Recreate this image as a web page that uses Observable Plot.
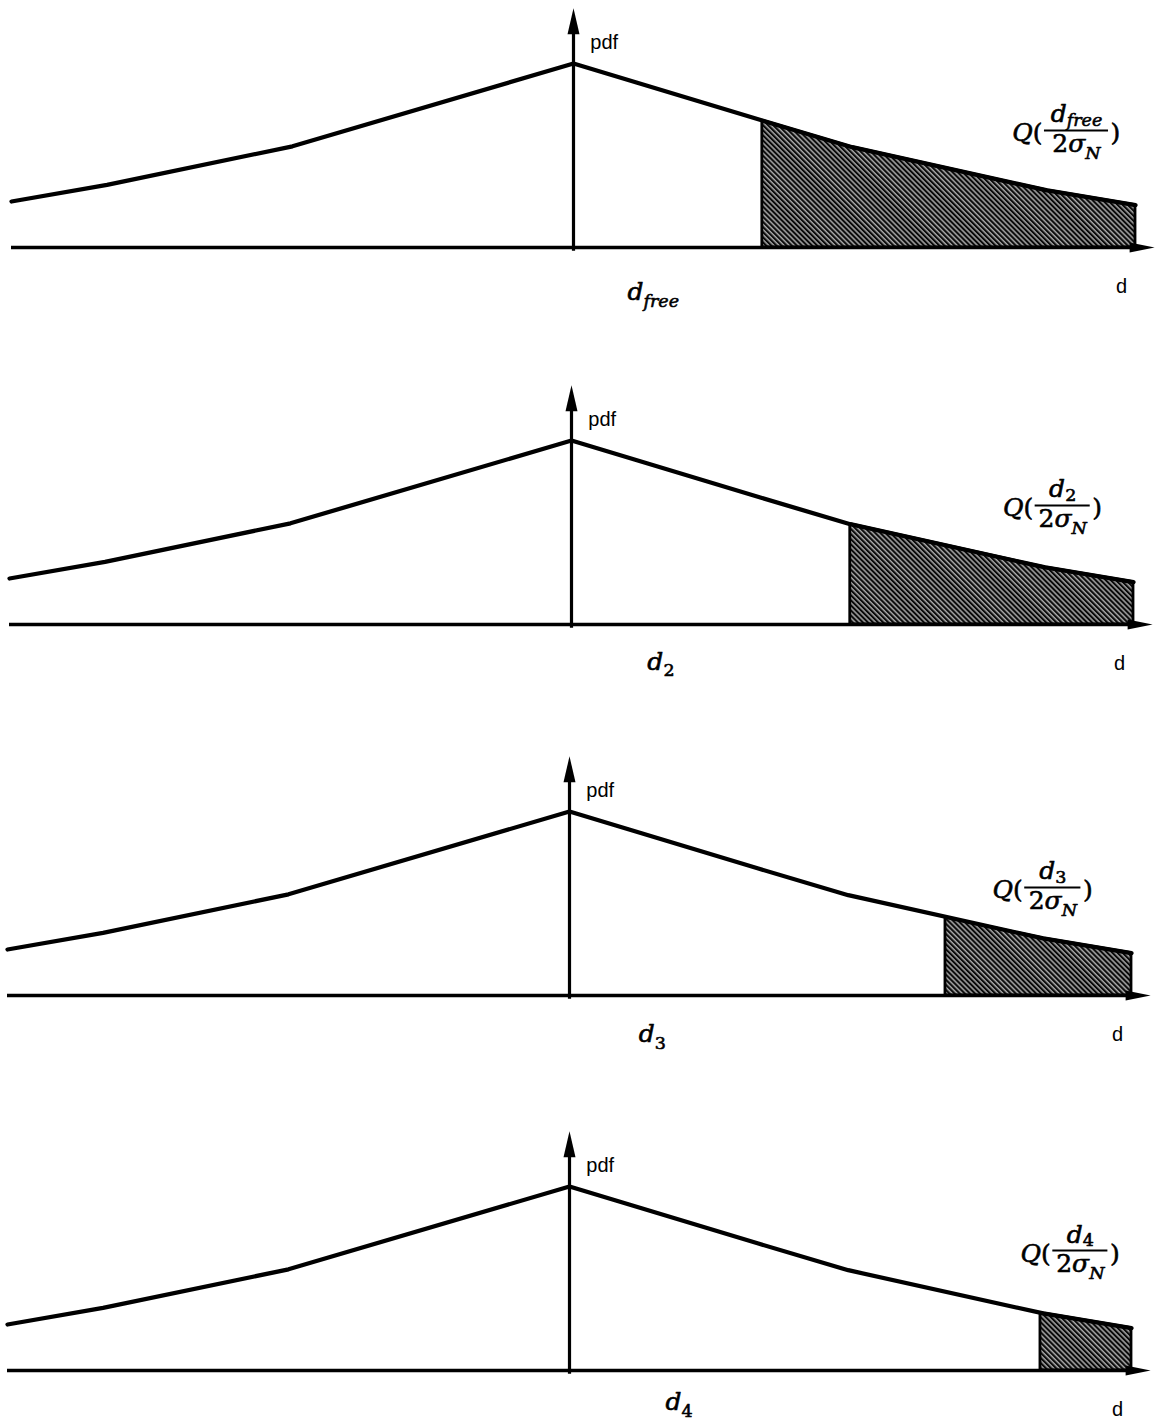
<!DOCTYPE html>
<html><head><meta charset="utf-8">
<script src="https://cdn.jsdelivr.net/npm/d3@7"></script>
<script src="https://cdn.jsdelivr.net/npm/@observablehq/plot@0.6"></script>
<style>
body{margin:0;background:#fff;}
#chart{position:relative;width:1157px;height:1422px;overflow:hidden;background:#fff;}
#chart svg{position:absolute;left:0;background:transparent;}
</style></head><body><div id="chart"></div>
<script>
// ---- data (distance d, pdf value) ----
const curveD   = [-10.0, -8.3, -5.0, 0.0, 3.36, 4.96, 8.43, 10.0];
const curvePdf = [0.25, 0.34, 0.55, 1.0, 0.69, 0.545, 0.31, 0.23];
const subscripts   = ["free", "2", "3", "4"];
const thresholdD   = [3.36, 4.96, 6.69, 8.38];
const thresholdPdf = [0.69, 0.545, 0.425, 0.31];
const axisStartD = -10.0;
const axisEndD = 10.34;
const axisTopPdf = 1.30;
const verticalLabel = "pdf";
const horizontalLabel = "d";

// ---- layout ----
const W = 1157, k = 56.2;
const panelTop    = [0, 377, 748, 1123];
const panelHeight = [377, 371, 375, 299];
const centerPx    = [573, 571, 569, 569];
const labelD      = [0.96, 1.35, 1.23, 1.71];
const labelPdf    = [-0.285, -0.245, -0.255, -0.215];
const fracCenterD = [8.95, 8.74, 8.6, 9.09];
const fracHalf    = [0.57, 0.49, 0.5, 0.49];
const fracPdf     = [0.636, 0.647, 0.587, 0.652];

const curve = curveD.map((d, i) => ({d, pdf: curvePdf[i]}));

function arrowSym(dir) {
  return {
    draw(ctx) {
      if (dir === "right") { ctx.moveTo(0, 0); ctx.lineTo(-25, -5); ctx.lineTo(-25, 5); ctx.closePath(); }
      else { ctx.moveTo(0, 0); ctx.lineTo(-6, 26); ctx.lineTo(6, 26); ctx.closePath(); }
    }
  };
}

const mathFont = {fontFamily: "DejaVu Serif", fontStyle: "italic", fontSize: 25, stroke: "black", strokeWidth: 0.6, fill: "black"};
const sansFont = {fontFamily: "Liberation Sans", fontSize: 20};

// "_{x}" = subscript, "[x]" = upright, leading "~" = tight subscript (fraction numerator)
function renderMath(svg) {
  d3.select(svg).selectAll("text").each(function () {
    let src = this.textContent;
    if (!/_\{|\[|\]|^~/.test(src)) return;
    let drop = 0.27;
    if (src.startsWith("~")) { drop = 0.14; src = src.slice(1); }
    const fs = parseFloat(getComputedStyle(this).fontSize) || 25;
    const el = d3.select(this);
    el.text(null);
    const re = /_\{([^}]*)\}|\[([^\]]*)\]|([^_\[]+)/g;
    let m, shift = 0;
    while ((m = re.exec(src))) {
      const t = el.append("tspan");
      if (m[1] !== undefined) {
        const s = drop * fs;
        t.attr("font-size", (0.7 * fs) + "px").attr("dy", (s - shift) + "px")
         .attr("font-style", /^\d+$/.test(m[1]) ? "normal" : "italic").text(m[1]);
        shift = s;
      } else if (m[2] !== undefined) {
        t.attr("font-style", "normal").attr("dy", (-shift) + "px").text(m[2]);
        shift = 0;
      } else {
        t.attr("font-style", "italic").attr("dy", (-shift) + "px").text(m[3]);
        shift = 0;
      }
    }
  });
}

const container = document.getElementById("chart");

subscripts.forEach((sub, i) => {
  const th = thresholdD[i];
  const shaded = [{d: th, pdf: thresholdPdf[i]}, ...curve.filter(p => p.d > th)];
  const cx = centerPx[i];
  const c = fracCenterD[i], h = fracHalf[i], fy = fracPdf[i];
  const svg = Plot.plot({
    width: W,
    height: panelHeight[i],
    margin: 0,
    x: {domain: [-cx / k, (W - cx) / k], range: [0, W], axis: null},
    y: {domain: [0, 1], range: [247, 63], axis: null},
    style: {background: "transparent"},
    marks: [
      Plot.areaY(shaded, {x: "d", y: "pdf", fill: `url(#hatch${i})`, stroke: "black", strokeWidth: 2.8, strokeLinejoin: "miter"}),
      Plot.ruleY([{y: 0, x1: axisStartD, x2: axisEndD - 0.3}], {y: "y", x1: "x1", x2: "x2", strokeWidth: 3.5}),
      Plot.line(curve, {x: "d", y: "pdf", strokeWidth: 4.3, strokeLinejoin: "round", strokeLinecap: "round"}),
      Plot.ruleX([{x: 0, y1: -0.02, y2: axisTopPdf - 0.1}], {x: "x", y1: "y1", y2: "y2", strokeWidth: 3.2}),
      Plot.dot([{d: axisEndD, pdf: 0}], {x: "d", y: "pdf", symbol: arrowSym("right"), fill: "black", stroke: "none"}),
      Plot.dot([{d: 0, pdf: axisTopPdf}], {x: "d", y: "pdf", symbol: arrowSym("up"), fill: "black", stroke: "none"}),
      Plot.text([{d: 0.30, pdf: 1.08, t: verticalLabel}], {x: "d", y: "pdf", text: "t", textAnchor: "start", lineAnchor: "bottom", ...sansFont}),
      Plot.text([{d: 9.75, pdf: -0.245, t: horizontalLabel}], {x: "d", y: "pdf", text: "t", textAnchor: "middle", lineAnchor: "bottom", ...sansFont}),
      Plot.text([{d: labelD[i], pdf: labelPdf[i], t: `d_{${sub}}`}], {x: "d", y: "pdf", text: "t", textAnchor: "start", lineAnchor: "bottom", ...mathFont}),
      // Q( numerator / denominator )
      Plot.ruleY([{y: fy, x1: c - h, x2: c + h}], {y: "y", x1: "x1", x2: "x2", strokeWidth: 2}),
      Plot.text([{d: c, pdf: fy, t: `~d_{${sub}}`}], {x: "d", y: "pdf", text: "t", textAnchor: "middle", lineAnchor: "bottom", dy: -8, ...mathFont}),
      Plot.text([{d: c, pdf: fy, t: "[2]σ_{N}"}], {x: "d", y: "pdf", text: "t", textAnchor: "middle", lineAnchor: "top", dy: 4, ...mathFont}),
      Plot.text([{d: c - h, pdf: fy, t: "Q[(]"}], {x: "d", y: "pdf", text: "t", textAnchor: "end", lineAnchor: "middle", dx: -2, dy: 3, ...mathFont}),
      Plot.text([{d: c + h, pdf: fy, t: "[)]"}], {x: "d", y: "pdf", text: "t", textAnchor: "start", lineAnchor: "middle", dx: 2, dy: 3, ...mathFont})
    ]
  });
  svg.style.top = panelTop[i] + "px";
  const defs = d3.select(svg).insert("defs", ":first-child");
  const pat = defs.append("pattern").attr("id", `hatch${i}`).attr("patternUnits", "userSpaceOnUse")
    .attr("width", 3.6).attr("height", 3.6).attr("patternTransform", "rotate(-45)");
  pat.append("rect").attr("width", 3.6).attr("height", 3.6).attr("fill", "#a8a8a8");
  pat.append("rect").attr("width", 2.1).attr("height", 3.6).attr("fill", "#0a0a0a");
  container.appendChild(svg);
  renderMath(svg);
});
</script></body></html>
